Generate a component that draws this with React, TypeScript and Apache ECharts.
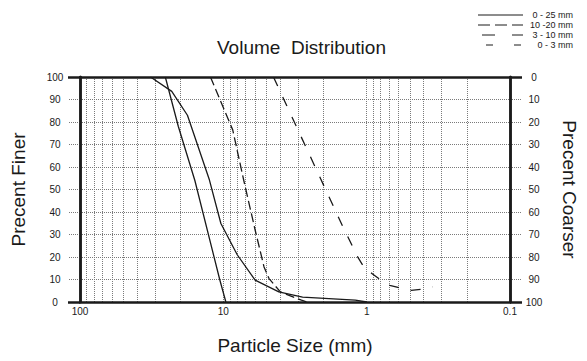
import React, { useEffect, useRef } from 'react';
import * as echarts from 'echarts';

// ---- data ----
const legendNames = ['0 - 25 mm', '10 -20 mm', '3 - 10 mm', '0 - 3 mm'];

// particle size (mm), percent finer
const curve0to25: [number, number][] = [
  [32.2, 100], [22.9, 93.6], [17.8, 83], [12.5, 54.2], [10.4, 34.9], [8.0, 21],
  [6.0, 9.7], [4.1, 4.5], [2.8, 2.2], [1.2, 0.8], [1.0, 0],
];
const curve10to20: [number, number][] = [
  [25.4, 100], [20.6, 78], [15.8, 54], [10.6, 10], [9.6, 0],
];
const curve3to10: [number, number][] = [
  [12.3, 100], [8.6, 76.5], [7.2, 54], [6.0, 32], [5.2, 15.6], [4.8, 10.4],
  [4.0, 4.5], [2.85, 0.8], [2.6, 0],
];
const curve0to3: [number, number][] = [
  [4.47, 100], [1.46, 33.2], [1.15, 19.8], [1.02, 14.4], [0.92, 12.7], [0.765, 8.9],
  [0.69, 7.4], [0.557, 6.0], [0.49, 5.2], [0.40, 5.8], [0.347, 6.7],
];

const xGridValues = [90, 80, 70, 60, 50, 40, 30, 20, 10, 9, 8, 7, 6, 5, 4, 3, 2, 1,
  0.9, 0.8, 0.7, 0.6, 0.5, 0.4, 0.3, 0.2];

// ---- styles ----
const INK = '#1a1a1a';
const GRID = '#7a7a7a';
const FONT = '"Liberation Sans", Arial, sans-serif';
const legendDash: (number[] | null)[] = [null, [12, 5], [13, 17], [7, 21]];
const legendStart = [478, 478, 482, 486];

export default function App() {
  const ref = useRef<HTMLDivElement>(null);
  useEffect(() => {
    if (!ref.current) return;
    const chart = echarts.init(ref.current, undefined, { renderer: 'svg' });
    const boldLine = { color: INK, width: 2.5 };
    const dotted = { color: GRID, width: 1, type: [1, 1] as any };
    const option: any = {
      animation: false,
      textStyle: { fontFamily: FONT, color: INK },
      title: {
        text: 'Volume  Distribution',
        left: 212,
        top: 33,
        textStyle: { fontSize: 19, fontWeight: 'normal', color: INK, fontFamily: FONT },
      },
      grid: { left: 80, right: 70, top: 77, bottom: 59, show: false },
      xAxis: [
        {
          type: 'log',
          logBase: 10,
          min: 0.1,
          max: 100,
          inverse: true,
          position: 'bottom',
          z: 5,
          axisLine: { show: true, lineStyle: boldLine },
          axisTick: { show: false },
          splitLine: { show: false },
          minorTick: { show: false },
          axisLabel: { fontSize: 10, color: INK, margin: 4, fontFamily: FONT, showMinLabel: true, showMaxLabel: true },
          name: 'Particle Size (mm)',
          nameLocation: 'middle',
          nameGap: 34,
          nameTextStyle: { fontSize: 19, color: INK, fontFamily: FONT },
        },
        {
          type: 'value',
          min: 0,
          max: 1,
          position: 'top',
          z: 5,
          axisLine: { show: true, lineStyle: boldLine },
          axisTick: { show: false },
          axisLabel: { show: false },
          splitLine: { show: false },
        },
      ],
      yAxis: [
        {
          type: 'value',
          min: 0, max: 100, interval: 10,
          position: 'left',
          axisLine: { show: true, lineStyle: boldLine },
          axisTick: { show: true, length: 12, lineStyle: dotted },
          axisLabel: { fontSize: 10, color: INK, margin: 25, align: 'center', fontFamily: FONT },
          splitLine: { show: true, lineStyle: dotted },
          name: 'Precent Finer',
          nameLocation: 'middle',
          nameGap: 52,
          nameTextStyle: { fontSize: 19, color: INK, fontFamily: FONT },
        },
        {
          type: 'value',
          min: 0, max: 100, interval: 10,
          inverse: true,
          position: 'right',
          axisLine: { show: true, lineStyle: boldLine },
          axisTick: { show: true, length: 12, lineStyle: dotted },
          axisLabel: { fontSize: 10, color: INK, margin: 24, align: 'center', fontFamily: FONT },
          splitLine: { show: false },
          name: 'Precent Coarser',
          nameLocation: 'middle',
          nameGap: 50,
          nameRotate: -90,
          nameTextStyle: { fontSize: 19, color: INK, fontFamily: FONT },
        },
        {
          type: 'value',
          min: 0, max: 100, interval: 100,
          position: 'left',
          z: 5,
          axisLine: { show: true, lineStyle: boldLine },
          axisTick: { show: true, length: 12, lineStyle: boldLine },
          axisLabel: { show: false },
          splitLine: { show: false },
        },
        {
          type: 'value',
          min: 0, max: 100, interval: 100,
          position: 'right',
          z: 5,
          axisLine: { show: true, lineStyle: boldLine },
          axisTick: { show: true, length: 12, lineStyle: boldLine },
          axisLabel: { show: false },
          splitLine: { show: false },
        },
      ],
      graphic: legendNames.map((name, i) => ({
        type: 'group',
        silent: true,
        children: [
          {
            type: 'line',
            shape: { x1: legendStart[i], y1: 15 + 10 * i, x2: 523, y2: 15 + 10 * i },
            style: { stroke: INK, lineWidth: 1, lineDash: legendDash[i] || undefined },
          },
          {
            type: 'text',
            style: {
              text: name, x: 573, y: 15 + 10 * i, align: 'right', verticalAlign: 'middle',
              fontSize: 9, fontFamily: FONT, fill: INK,
            },
          },
        ],
      })),
      series: [
        {
          type: 'line',
          name: 'grid',
          data: [[1, 50]],
          symbol: 'none',
          lineStyle: { opacity: 0 },
          silent: true,
          markLine: {
            silent: true,
            z: 1,
            symbol: ['none', 'none'],
            label: { show: false },
            lineStyle: dotted,
            data: xGridValues.map((v) => ({ xAxis: v })),
          },
        },
        {
          type: 'line', name: legendNames[0], data: curve0to25, symbol: 'none',
          lineStyle: { color: INK, width: 1.3 },
        },
        {
          type: 'line', name: legendNames[1], data: curve10to20, symbol: 'none',
          lineStyle: { color: INK, width: 1.3 },
        },
        {
          type: 'line', name: legendNames[2], data: curve3to10, symbol: 'none',
          lineStyle: { color: INK, width: 1.3, type: [9, 4] },
        },
        {
          type: 'line', name: legendNames[3], data: curve0to3, symbol: 'none',
          lineStyle: { color: INK, width: 1.3, type: [10, 12] },
        },
      ],
    };
    chart.setOption(option);
    return () => chart.dispose();
  }, []);
  return (
    <div
      ref={ref}
      style={{ position: 'fixed', left: 0, top: 0, width: 587, height: 361, background: '#fff' }}
    />
  );
}
